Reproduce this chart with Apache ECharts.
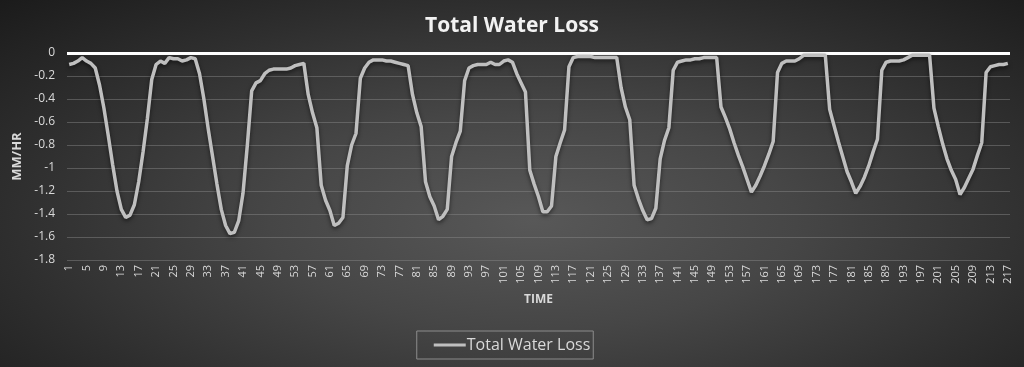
<!DOCTYPE html>
<html>
<head>
<meta charset="utf-8">
<script src="https://cdn.jsdelivr.net/npm/echarts@6/dist/echarts.min.js"></script>
<style>
  html, body { margin: 0; padding: 0; background: #262626; }
  #chart {
    width: 1024px; height: 367px;
    background: radial-gradient(ellipse farthest-corner at 52% 60%, #585858 0%, #464646 35%, #2e2e2e 70%, #1b1b1b 100%);
  }
</style>
</head>
<body>
<div id="chart"></div>
<script>
const titleText = 'Total Water Loss';
const seriesName = 'Total Water Loss';
const xAxisName = 'TIME';
const yAxisName = 'MM/HR';
const yMin = -1.8, yMax = 0, yStep = 0.2;

// hourly time steps 1..217
const categories = [];
for (let i = 1; i <= 217; i++) categories.push(String(i));

const waterLoss = [
  -0.10, -0.09, -0.07, -0.04, -0.07, -0.09, -0.13, -0.28, -0.48, -0.72,
  -0.97, -1.20, -1.36, -1.43, -1.41, -1.32, -1.12, -0.86, -0.57, -0.23,
  -0.10, -0.07, -0.09, -0.04, -0.05, -0.05, -0.07, -0.06, -0.04, -0.05,
  -0.18, -0.40, -0.66, -0.90, -1.14, -1.36, -1.50, -1.57, -1.56, -1.46,
  -1.22, -0.80, -0.33, -0.26, -0.24, -0.18, -0.15, -0.14, -0.14, -0.14,
  -0.14, -0.13, -0.11, -0.10, -0.09, -0.36, -0.52, -0.65, -1.15, -1.28,
  -1.37, -1.50, -1.48, -1.43, -0.98, -0.80, -0.70, -0.22, -0.13, -0.08,
  -0.06, -0.06, -0.06, -0.07, -0.07, -0.08, -0.09, -0.10, -0.11, -0.36,
  -0.52, -0.64, -1.12, -1.25, -1.33, -1.45, -1.42, -1.36, -0.90, -0.78,
  -0.68, -0.24, -0.13, -0.11, -0.10, -0.10, -0.10, -0.08, -0.10, -0.10,
  -0.07, -0.06, -0.08, -0.18, -0.26, -0.34, -1.02, -1.14, -1.25, -1.38,
  -1.38, -1.33, -0.90, -0.78, -0.67, -0.12, -0.04, -0.03, -0.03, -0.03,
  -0.03, -0.04, -0.04, -0.04, -0.04, -0.04, -0.04, -0.30, -0.47, -0.58,
  -1.15, -1.27, -1.37, -1.45, -1.44, -1.35, -0.92, -0.76, -0.65, -0.15,
  -0.08, -0.07, -0.06, -0.06, -0.05, -0.05, -0.04, -0.04, -0.04, -0.04,
  -0.47, -0.56, -0.66, -0.78, -0.89, -0.99, -1.10, -1.21, -1.15, -1.07,
  -0.98, -0.88, -0.77, -0.17, -0.09, -0.07, -0.07, -0.07, -0.05, -0.02,
  -0.02, -0.02, -0.02, -0.02, -0.02, -0.49, -0.63, -0.77, -0.90, -1.03,
  -1.12, -1.22, -1.16, -1.08, -0.98, -0.86, -0.75, -0.15, -0.08, -0.07,
  -0.07, -0.07, -0.06, -0.04, -0.02, -0.02, -0.02, -0.02, -0.02, -0.48,
  -0.64, -0.79, -0.92, -1.02, -1.10, -1.23, -1.17, -1.09, -1.01, -0.89,
  -0.78, -0.17, -0.12, -0.11, -0.10, -0.10, -0.09
];

const FONT = '"Open Sans", "Noto Sans", sans-serif';
const chart = echarts.init(document.getElementById('chart'), null, { renderer: 'canvas' });

chart.setOption({
  backgroundColor: 'transparent',
  animation: false,
  title: {
    text: titleText,
    left: 'center',
    top: 11,
    textStyle: { color: '#f2f2f2', fontFamily: FONT, fontSize: 21, fontWeight: 'bold' }
  },
  legend: {
    bottom: 8,
    left: 'center',
    data: [seriesName],
    itemWidth: 32,
    itemHeight: 3,
    itemGap: 10,
    padding: [6, 3, 6, 17],
    borderColor: '#8c8c8c',
    borderWidth: 1,
    textStyle: { color: '#d9d9d9', fontFamily: FONT, fontSize: 16, padding: [0, 0, 0, -4] },
    icon: 'rect',
    itemStyle: { color: '#bfbfbf' }
  },
  grid: { left: 67, right: 14, top: 53, bottom: 107, containLabel: false },
  xAxis: {
    type: 'category',
    data: categories,
    boundaryGap: true,
    name: xAxisName,
    nameLocation: 'middle',
    nameGap: 34,
    nameTextStyle: { color: '#d9d9d9', fontFamily: FONT, fontSize: 12, fontWeight: 'bold' },
    axisLine: { show: false, onZero: false },
    axisTick: { show: false },
    axisLabel: {
      interval: 3,
      rotate: 90,
      margin: 5,
      color: '#d9d9d9',
      fontFamily: FONT,
      fontSize: 11
    },
    splitLine: { show: false }
  },
  yAxis: {
    type: 'value',
    min: yMin,
    max: yMax,
    interval: yStep,
    name: yAxisName,
    nameLocation: 'middle',
    nameGap: 39,
    nameRotate: 90,
    nameTextStyle: { color: '#d9d9d9', fontFamily: FONT, fontSize: 13, fontWeight: 'bold' },
    axisLine: { show: false },
    axisTick: { show: false },
    axisLabel: {
      margin: 12,
      color: '#d9d9d9',
      fontFamily: FONT,
      fontSize: 12,
      formatter: v => String(+v.toFixed(1))
    },
    splitLine: { show: true, lineStyle: { color: 'rgba(140,140,140,0.45)', width: 1 } }
  },
  series: [{
    name: seriesName,
    type: 'line',
    data: waterLoss,
    symbol: 'none',
    showSymbol: false,
    smooth: false,
    lineStyle: {
      color: '#bfbfbf', width: 3.5,
      shadowColor: 'rgba(0,0,0,0.55)', shadowBlur: 4, shadowOffsetY: 2
    },
    itemStyle: { color: '#bfbfbf' },
    markLine: {
      silent: true,
      symbol: 'none',
      label: { show: false },
      lineStyle: { color: '#ffffff', width: 3, type: 'solid' },
      data: [{ yAxis: 0 }],
      z: 1
    },
    z: 3
  }]
});
</script>
</body>
</html>
